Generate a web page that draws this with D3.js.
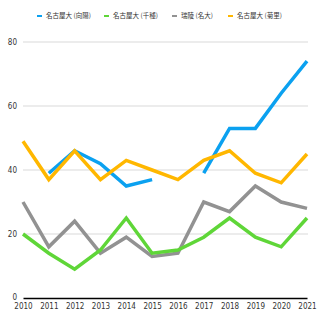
<!DOCTYPE html>
<html>
<head>
<meta charset="utf-8">
<script src="https://cdn.jsdelivr.net/npm/d3@7"></script>
<style>
  body { margin: 0; background: #fff; }
  text { font-family: "Liberation Sans Narrow", "DejaVu Sans Condensed", sans-serif; }
  .lg text { font-family: "Noto Sans CJK JP", sans-serif; }
</style>
</head>
<body>
<svg id="chart" width="328" height="328"></svg>
<script>
// years on the x axis
var years = [2010, 2011, 2012, 2013, 2014, 2015, 2016, 2017, 2018, 2019, 2020, 2021];
var yTicks = [0, 20, 40, 60, 80];

var seriesNames = ["名古屋大 (向陽)", "名古屋大 (千種)", "瑞陵 (名大)", "名古屋大 (菊里)"];
var seriesColors = ["#0ba1f0", "#5fd638", "#929292", "#ffb700"];

// null = no value that year
var kouyou = [null, 39, 46, 42, 35, 37, null, 39, 53, 53, 64, 74];
var chikusa = [20, 14, 9, 15, 25, 14, 15, 19, 25, 19, 16, 25];
var zuiryo = [30, 16, 24, 14, 19, 13, 14, 30, 27, 35, 30, 28];
var kikuzato = [49, 37, 46, 37, 43, 40, 37, 43, 46, 39, 36, 45];

var allSeries = [kouyou, chikusa, zuiryo, kikuzato];
// orange ends up on top in the ref
var drawOrder = [2, 1, 0, 3];

var margin = {top: 42, right: 20, bottom: 30, left: 23};

var svg = d3.select("#chart");
var g = svg.append("g").attr("transform", "translate(" + margin.left + "," + margin.top + ")");

var xScale = d3.scalePoint().domain(years).range([0, 284]);
var yScale = d3.scaleLinear().domain([0, 80]).range([256, 0]);

// grid
g.selectAll(".grid").data(yTicks.filter(function(d){ return d > 0; }))
  .enter().append("line")
  .attr("x1", 0).attr("x2", 285)
  .attr("y1", function(d){ return yScale(d); })
  .attr("y2", function(d){ return yScale(d); })
  .attr("stroke", "#d9d9d9").attr("stroke-width", 1);

// y labels
g.selectAll(".ylab").data(yTicks).enter().append("text")
  .attr("x", -6).attr("y", function(d){ return yScale(d) - (d === 0 ? 1 : 0); })
  .attr("dy", "0.35em").attr("text-anchor", "end")
  .attr("font-size", 8).attr("fill", "#333")
  .text(function(d){ return d; });

// x axis
var xAxis = d3.axisBottom(xScale).tickSize(0).tickPadding(5);
var xg = g.append("g").attr("transform", "translate(0," + yScale(0) + ")").call(xAxis);
xg.select(".domain").attr("stroke", "#000").attr("stroke-width", 1.5);
xg.selectAll("text").attr("font-size", 8).attr("fill", "#333");

var line = d3.line()
  .defined(function(d){ return d != null; })
  .x(function(d, i){ return xScale(years[i]); })
  .y(function(d){ return yScale(d); });

drawOrder.forEach(function(k){
  g.append("path")
    .datum(allSeries[k])
    .attr("fill", "none")
    .attr("stroke", seriesColors[k])
    .attr("stroke-width", 3.5)
    .attr("d", line);
});

// legend
var legendX = [37, 104, 172, 228];
var lg = svg.append("g").attr("class", "lg");
seriesNames.forEach(function(name, i){
  lg.append("rect")
    .attr("x", legendX[i]).attr("y", 15)
    .attr("width", 5).attr("height", 2)
    .attr("fill", seriesColors[i]);
  lg.append("text")
    .attr("x", legendX[i] + 9).attr("y", 16)
    .attr("dy", "0.35em")
    .attr("font-size", 6.5).attr("fill", "#333")
    .text(name);
});
</script>
</body>
</html>
